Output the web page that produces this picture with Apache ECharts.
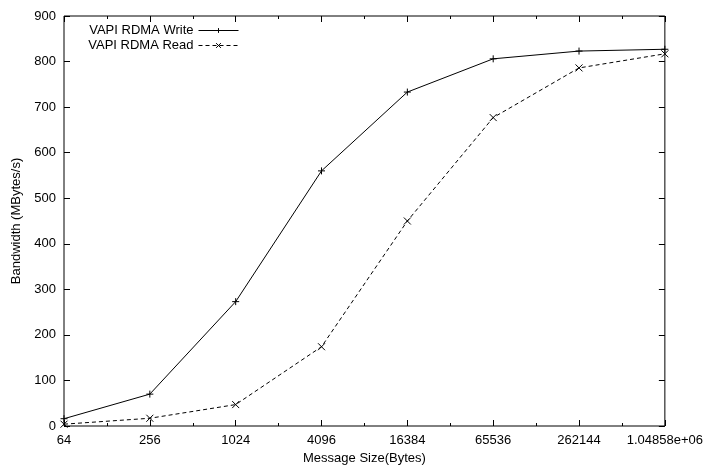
<!DOCTYPE html>
<html>
<head>
<meta charset="utf-8">
<script src="https://cdn.jsdelivr.net/npm/echarts@6/dist/echarts.min.js"></script>
<style>
  html, body { margin: 0; padding: 0; background: #fff; }
  #chart { width: 706px; height: 470px; }
</style>
</head>
<body>
<div id="chart"></div>
<script>
// Message sizes (bytes), powers of four
const messageSizes = [64, 256, 1024, 4096, 16384, 65536, 262144, 1048576];
// Bandwidth in MBytes/s
const writeBandwidth = [16, 70, 273, 560, 733, 806, 823, 827];
const readBandwidth = [4, 17, 47, 174, 450, 677, 786, 817];
// Tick labels for the x axis (one per power of four)
const xTickLabels = ['64', '256', '1024', '4096', '16384', '65536', '262144', '1.04858e+06'];
const yTicks = [0, 100, 200, 300, 400, 500, 600, 700, 800, 900];

const FONT = '"Liberation Sans", Arial, Helvetica, sans-serif';
const INK = '#000';

const plusPath = 'path://M5,0L5,10M0,5L10,5';
const crossPath = 'path://M0,0L10,10M10,0L0,10';

function toPairs(xs, ys) { return xs.map((x, i) => [x, ys[i]]); }

function xLabel(v) {
  const idx = Math.round(Math.log(v) / Math.log(4)) - 3;
  return xTickLabels[idx] !== undefined ? xTickLabels[idx] : '';
}

const xMin = messageSizes[0];
const xMax = messageSizes[messageSizes.length - 1];

function logAxis(opts) {
  return Object.assign({
    type: 'log',
    min: xMin,
    max: xMax,
    interval: 1,
    splitLine: { show: false },
    axisLine: { show: false },
    axisLabel: { show: false },
    axisTick: { show: true, inside: true, length: 6, lineStyle: { color: INK, width: 1 } }
  }, opts);
}

function legendFor(name, top) {
  return {
    data: [name],
    right: 462, top: top,
    align: 'right',
    itemWidth: 40, itemHeight: 6, itemGap: 0,
    lineStyle: { width: 1 },
    itemStyle: { borderWidth: 1 },
    textStyle: { fontFamily: FONT, fontSize: 13, color: INK }
  };
}

const chart = echarts.init(document.getElementById('chart'), null, { renderer: 'canvas' });

chart.setOption({
  animation: false,
  backgroundColor: '#fff',
  textStyle: { fontFamily: FONT },
  grid: {
    left: 64, right: 39, top: 16, bottom: 40,
    show: true, borderColor: INK, borderWidth: 1, backgroundColor: 'transparent'
  },
  legend: [
    legendFor('VAPI RDMA Write', 19),
    legendFor('VAPI RDMA Read', 34)
  ],
  xAxis: [
    logAxis({
      position: 'bottom',
      logBase: 4,
      name: 'Message Size(Bytes)',
      nameLocation: 'middle',
      nameGap: 26,
      nameTextStyle: { fontFamily: FONT, fontSize: 13, color: INK },
      axisLabel: {
        show: true, margin: 8, color: INK, fontFamily: FONT, fontSize: 13,
        formatter: xLabel
      }
    }),
    // factor-of-two minor ticks along the bottom
    logAxis({ position: 'bottom', logBase: 2, axisTick: { show: true, inside: true, length: 3, lineStyle: { color: INK } } }),
    // mirrored ticks along the top
    logAxis({ position: 'top', logBase: 4 }),
    logAxis({ position: 'top', logBase: 2, axisTick: { show: true, inside: true, length: 3, lineStyle: { color: INK } } })
  ],
  yAxis: [
    {
      type: 'value',
      position: 'left',
      min: yTicks[0],
      max: yTicks[yTicks.length - 1],
      interval: 100,
      name: 'Bandwidth (MBytes/s)',
      nameLocation: 'middle',
      nameGap: 40,
      nameTextStyle: { fontFamily: FONT, fontSize: 13, color: INK },
      splitLine: { show: false },
      axisLine: { show: false },
      axisTick: { show: true, inside: true, length: 6, lineStyle: { color: INK } },
      axisLabel: { color: INK, fontFamily: FONT, fontSize: 13, margin: 8 }
    },
    {
      type: 'value',
      position: 'right',
      min: yTicks[0],
      max: yTicks[yTicks.length - 1],
      interval: 100,
      splitLine: { show: false },
      axisLine: { show: false },
      axisTick: { show: true, inside: true, length: 6, lineStyle: { color: INK } },
      axisLabel: { show: false }
    }
  ],
  series: [
    {
      name: 'VAPI RDMA Write',
      type: 'line',
      xAxisIndex: 0, yAxisIndex: 0,
      data: toPairs(messageSizes, writeBandwidth),
      symbol: plusPath,
      symbolSize: 7,
      showAllSymbol: true,
      lineStyle: { color: INK, width: 1, type: 'solid' },
      itemStyle: { color: 'rgba(0,0,0,0)', borderColor: INK, borderWidth: 1 },
      emphasis: { disabled: true }
    },
    {
      name: 'VAPI RDMA Read',
      type: 'line',
      xAxisIndex: 0, yAxisIndex: 0,
      data: toPairs(messageSizes, readBandwidth),
      symbol: crossPath,
      symbolSize: 7,
      showAllSymbol: true,
      lineStyle: { color: INK, width: 1, type: [4, 3] },
      itemStyle: { color: 'rgba(0,0,0,0)', borderColor: INK, borderWidth: 1 },
      emphasis: { disabled: true }
    }
  ]
});
</script>
</body>
</html>
